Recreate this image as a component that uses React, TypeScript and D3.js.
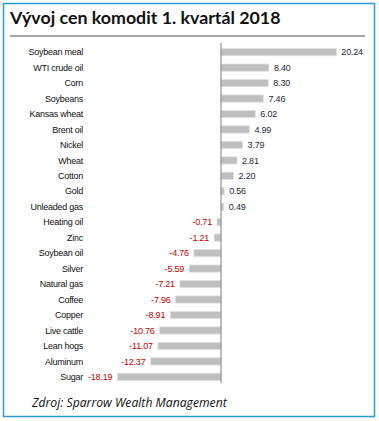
import React from "react";
import * as d3 from "d3";

const categories = [
  "Soybean meal", "WTI crude oil", "Corn", "Soybeans", "Kansas wheat", "Brent oil",
  "Nickel", "Wheat", "Cotton", "Gold", "Unleaded gas", "Heating oil", "Zinc",
  "Soybean oil", "Silver", "Natural gas", "Coffee", "Copper", "Live cattle",
  "Lean hogs", "Aluminum", "Sugar",
];
const values = [
  20.24, 8.4, 8.3, 7.46, 6.02, 4.99, 3.79, 2.81, 2.2, 0.56, 0.49, -0.71, -1.21,
  -4.76, -5.59, -7.21, -7.96, -8.91, -10.76, -11.07, -12.37, -18.19,
];
const title = "Vývoj cen komodit 1. kvartál 2018";
const source = "Zdroj: Sparrow Wealth Management";

export default function App() {
  const W = 379, H = 421;
  const x = d3.scaleLinear().domain([-20, 25]).range([221 - 114, 221 + 142.5]);
  const y = d3.scaleBand<string>().domain(categories).range([44.5, 384.5]).paddingInner(0.53).paddingOuter(0.26);
  const bw = y.bandwidth();
  const lab = "Liberation Sans, Arial, sans-serif";
  return (
    <svg width={W} height={H} style={{ position: "absolute", left: 0, top: 0, background: "#fff" }}>
      <rect x={3.5} y={3.5} width={371} height={413} fill="#fff" stroke="#2e9bd6" strokeWidth={1.5} />
      <text x={10} y={24} fontFamily="Lato, 'Open Sans', sans-serif" fontWeight={700} fontSize={17.8} fill="#111">
        {title}
      </text>
      <line x1={10} x2={365} y1={36} y2={36} stroke="#a6a6a6" strokeWidth={2} />
      {categories.map((c, i) => {
        const v = values[i];
        const yc = (y(c) as number) + bw / 2;
        const x0 = x(Math.min(0, v));
        const x1 = x(Math.max(0, v));
        return (
          <g key={c}>
            <rect x={x0} y={y(c) as number} width={x1 - x0} height={bw} fill="#bfbfbf" stroke="#e3e3e3" strokeWidth={0.8} />
            <text x={83} y={yc} dy="0.35em" textAnchor="end" fontFamily={lab} fontSize={9} letterSpacing={-0.25} fill="#111">
              {c}
            </text>
            <text
              x={v >= 0 ? x1 + 5 : x0 - 5}
              y={yc}
              dy="0.35em"
              textAnchor={v >= 0 ? "start" : "end"}
              fontFamily={lab}
              fontSize={9}
              letterSpacing={-0.2}
              fill={v >= 0 ? "#1f2a3a" : "#c00000"}
            >
              {v.toFixed(2)}
            </text>
          </g>
        );
      })}
      <line x1={x(0)} x2={x(0)} y1={43} y2={383} stroke="#7f7f7f" strokeWidth={1} />
      <text x={32} y={407} fontFamily="'Open Sans', sans-serif" fontStyle="italic" fontSize={12.2} fill="#111">
        {source}
      </text>
    </svg>
  );
}
